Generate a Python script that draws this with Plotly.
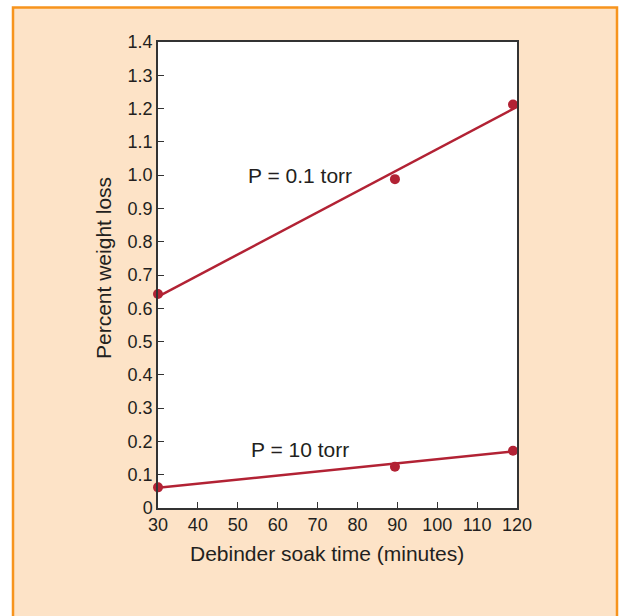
import plotly.graph_objects as go

# Data
soak_time_01 = [30, 89.4, 119]
loss_01 = [0.643, 0.988, 1.212]
soak_time_10 = [30, 89.4, 119]
loss_10 = [0.062, 0.124, 0.172]
fit_x = [30, 120]
fit_01 = [0.635, 1.205]
fit_10 = [0.061, 0.171]
x_ticks = [30, 40, 50, 60, 70, 80, 90, 100, 110, 120]
y_ticks = [0, 0.1, 0.2, 0.3, 0.4, 0.5, 0.6, 0.7, 0.8, 0.9, 1.0, 1.1, 1.2, 1.3, 1.4]
y_labels = ["0"] + [f"{v:.1f}" for v in y_ticks[1:]]
x_title = "Debinder soak time (minutes)"
y_title = "Percent weight loss"

RED = "#B22234"
TXT = "#231F20"
FONT = "Liberation Sans, Arial, sans-serif"

fig = go.Figure()
for fx, fy in [(fit_x, fit_01), (fit_x, fit_10)]:
    fig.add_trace(go.Scatter(x=fx, y=fy, mode="lines",
                             line=dict(color=RED, width=2.5),
                             showlegend=False, hoverinfo="skip", cliponaxis=False))
for sx, sy in [(soak_time_01, loss_01), (soak_time_10, loss_10)]:
    fig.add_trace(go.Scatter(x=sx, y=sy, mode="markers",
                             marker=dict(color=RED, size=10),
                             showlegend=False, cliponaxis=False))

# plot area pixel bounds
L, R, T, B = 158, 517, 42, 508
W, H = 620, 616
def px(x):
    return (x - L) / (R - L)
def py(y):
    return (B - y) / (B - T)

fig.add_shape(type="rect", xref="paper", yref="paper",
              x0=px(13), x1=px(617), y0=py(660), y1=py(7.5),
              fillcolor="#FDE3C7", line=dict(color="#F7941D", width=2.5),
              layer="below")
fig.add_shape(type="rect", xref="paper", yref="paper",
              x0=0, x1=1, y0=0, y1=1,
              fillcolor="white", line=dict(width=0), layer="below")

fig.add_annotation(x=65.6, y=1.0, text="P = 0.1 torr", showarrow=False,
                   font=dict(size=21, color=TXT, family=FONT))
fig.add_annotation(x=65.6, y=0.175, text="P = 10 torr", showarrow=False,
                   font=dict(size=21, color=TXT, family=FONT))
fig.add_annotation(xref="paper", yref="paper", x=px(326.5), y=py(553),
                   xanchor="center", yanchor="middle", text=x_title, showarrow=False,
                   font=dict(size=21, color=TXT, family=FONT))
fig.add_annotation(xref="paper", yref="paper", x=px(103), y=py(268),
                   xanchor="center", yanchor="middle", text=y_title, showarrow=False,
                   textangle=-90, font=dict(size=21, color=TXT, family=FONT))

axis_common = dict(showgrid=False, zeroline=False, showline=True, mirror=True,
                   linecolor="#333333", linewidth=1.5, ticks="inside",
                   ticklen=6, tickwidth=1.2, tickcolor="#333333",
                   tickfont=dict(size=18, color=TXT, family=FONT))

fig.update_xaxes(range=[30, 120], tickvals=x_ticks, **axis_common)
fig.update_yaxes(range=[0, 1.4], tickvals=y_ticks, ticktext=y_labels, **axis_common)

fig.update_layout(width=W, height=H,
                  margin=dict(l=L, r=W - R, t=T, b=H - B, pad=0),
                  paper_bgcolor="white", plot_bgcolor="white",
                  font=dict(family=FONT, color=TXT))

fig.write_html("out.html", config={"displayModeBar": False},
               post_script="document.body.style.margin='0';document.body.style.overflow='hidden';")
